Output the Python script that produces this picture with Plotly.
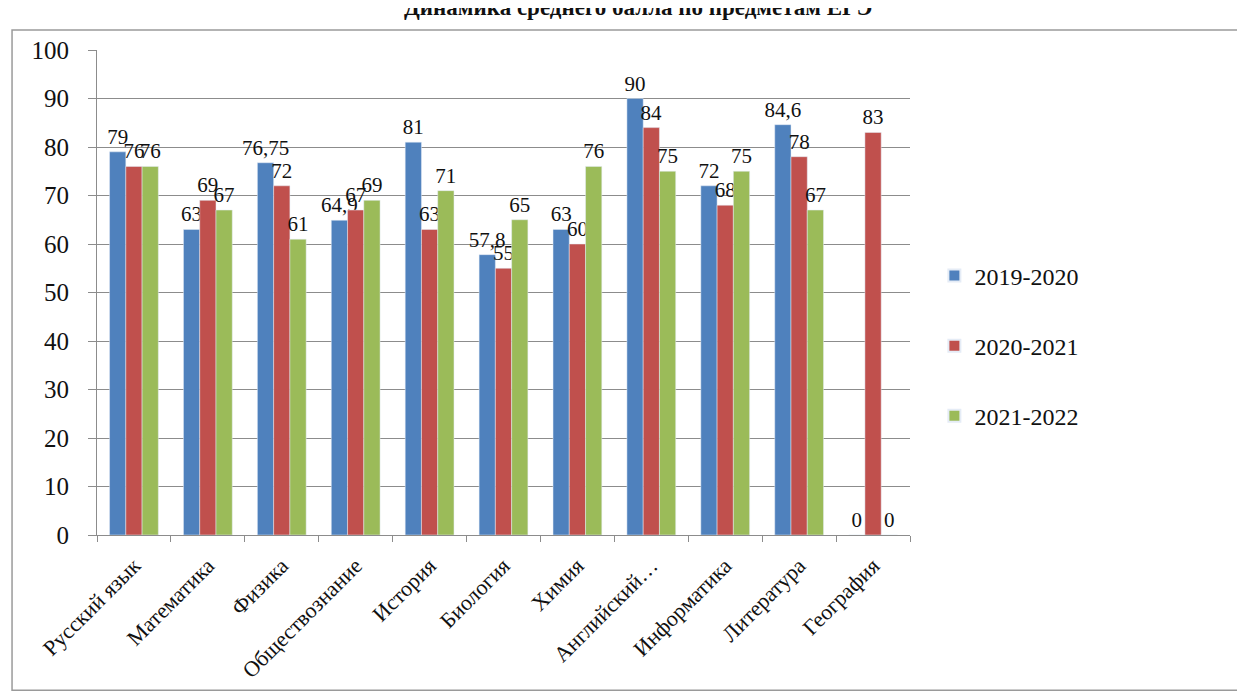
import plotly.graph_objects as go

categories = ['Русский язык', 'Математика', 'Физика', 'Обществознание', 'История',
              'Биология', 'Химия', 'Английский…', 'Информатика', 'Литература', 'География']
s2019 = [79, 63, 76.75, 64.9, 81, 57.8, 63, 90, 72, 84.6, 0]
s2020 = [76, 69, 72, 67, 63, 55, 60, 84, 68, 78, 83]
s2021 = [76, 67, 61, 69, 71, 65, 76, 75, 75, 67, 0]
series_names = ['2019-2020', '2020-2021', '2021-2022']
colors = ['#4F81BD', '#C0504D', '#9BBB59']
y_ticks = [0, 10, 20, 30, 40, 50, 60, 70, 80, 90, 100]

FONT = 'Liberation Serif, Times New Roman, serif'

def fmt(v):
    s = ('%g' % v)
    return s.replace('.', ',')

fig = go.Figure()
for i, (name, vals) in enumerate(zip(series_names, [s2019, s2020, s2021])):
    fig.add_trace(go.Bar(
        x=categories, y=vals, name=name, marker_color=colors[i],
        text=[fmt(v) for v in vals], textposition='outside',
        textfont=dict(family=FONT, size=21, color='#111'),
        constraintext='none', cliponaxis=False, legendgroup='g%d' % i,
    ))

fig.update_layout(
    width=1245, height=693,
    paper_bgcolor='white', plot_bgcolor='white',
    margin=dict(l=89, r=343, t=42, b=166),
    barmode='group', bargap=0.34, bargroupgap=0,
    font=dict(family=FONT, color='#111'),
    showlegend=True,
    legend=dict(x=1.03, y=0.39, xanchor='left', yanchor='middle',
                font=dict(family=FONT, size=24, color='#111'),
                tracegroupgap=36, itemsizing='constant'),
    annotations=[dict(text='<b>Динамика среднего балла по предметам ЕГЭ</b>',
                      xref='paper', yref='paper', x=0.665, y=1.087,
                      xanchor='center', yanchor='middle', showarrow=False,
                      font=dict(family=FONT, size=23, color='#111'))],
    shapes=[dict(type='rect', xref='paper', yref='paper',
                 x0=-0.1045, x1=1.405, y0=-0.32, y1=1.041,
                 line=dict(color='#9a9a9a', width=1.5), fillcolor='rgba(0,0,0,0)',
                 layer='below')],
)
fig.update_yaxes(range=[0, 100], tickvals=y_ticks, showgrid=True, gridcolor='#8c8c8c',
                 gridwidth=1.2, showline=True, linecolor='#8c8c8c', linewidth=1.2,
                 ticks='outside', ticklen=8, tickcolor='#8c8c8c', ticklabelstandoff=14,
                 tickfont=dict(family=FONT, size=25, color='#111'), zeroline=False,
                 automargin=False)
fig.update_xaxes(tickangle=-45, showline=True, linecolor='#8c8c8c', linewidth=1.2,
                 ticks='outside', ticklen=6, tickcolor='#8c8c8c', tickson='boundaries',
                 tickfont=dict(family=FONT, size=22, color='#111'), automargin=False,
                 ticklabelstandoff=8)

fig.write_html('out.html')
